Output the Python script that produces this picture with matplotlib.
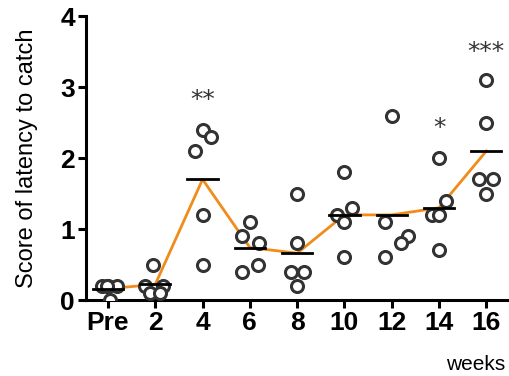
import matplotlib
matplotlib.use("Agg")
import matplotlib.pyplot as plt
import numpy as np

plt.rcParams['font.family'] = ['Liberation Sans', 'DejaVu Sans']

# groups on the x axis
labels = ['Pre', '2', '4', '6', '8', '10', '12', '14', '16']

# individual scores per group
scores = [
    [0.2, 0.2, 0.2, 0.2, 0.0],
    [0.5, 0.2, 0.2, 0.1, 0.1],
    [2.4, 2.3, 2.1, 1.2, 0.5],
    [1.1, 0.9, 0.8, 0.5, 0.4],
    [1.5, 0.8, 0.4, 0.4, 0.2],
    [1.8, 1.3, 1.2, 1.1, 0.6],
    [2.6, 1.1, 0.9, 0.8, 0.6],
    [2.0, 1.4, 1.2, 1.2, 0.7],
    [3.1, 2.5, 1.7, 1.7, 1.5],
]

# horizontal scatter of the dots within each group (category units)
jitter = [
    [-0.13, 0.0, 0.19, -0.03, 0.04],
    [-0.04, -0.21, 0.17, -0.11, 0.10],
    [0.0, 0.17, -0.17, 0.0, 0.0],
    [0.0, -0.17, 0.19, 0.17, -0.17],
    [0.0, 0.0, -0.14, 0.14, 0.0],
    [0.0, 0.17, -0.15, 0.0, 0.0],
    [0.0, -0.15, 0.34, 0.19, -0.15],
    [0.0, 0.15, -0.15, 0.0, 0.0],
    [0.0, 0.0, -0.15, 0.15, 0.0],
]

# significance marks: group index, text, y
stars = [(2, '**', 2.82), (7, '*', 2.42), (8, '***', 3.49)]

means = [np.mean(s) for s in scores]
xpos = np.arange(len(labels))

fig = plt.figure(figsize=(5.1, 3.76), dpi=100)
ax = fig.add_axes([0.169, 0.202, 0.831, 0.755])

ax.plot(xpos, means, color='#F08C1A', lw=2, zorder=2)

for i in range(len(labels)):
    xs = i + np.array(jitter[i])
    ax.scatter(xs, scores[i], s=75, facecolor='white', edgecolor='#333333',
               linewidths=2.2, zorder=3)
    ax.plot([i - 0.32, i + 0.32], [means[i], means[i]], color='black', lw=2, zorder=4)

for i, txt, y in stars:
    ax.text(i, y, txt, ha='center', va='center', fontsize=18, color='#333333',
            family='DejaVu Sans')

ax.set_xlim(-0.46, 8.5)
ax.set_ylim(0, 4)
ax.set_xticks(xpos)
ax.set_xticklabels(labels)
ax.set_yticks([0, 1, 2, 3, 4])
for lab in ax.get_xticklabels() + ax.get_yticklabels():
    lab.set_fontweight('bold')
    lab.set_fontsize(19)

ax.spines['top'].set_visible(False)
ax.spines['right'].set_visible(False)
ax.spines['left'].set_linewidth(2.2)
ax.spines['bottom'].set_linewidth(2.2)
ax.tick_params(axis='both', width=2.2, length=6, pad=2)
ax.set_ylabel('Score of latency to catch', fontsize=17, labelpad=16)
fig.text(0.99, 0.03, 'weeks', ha='right', va='center', fontsize=15)

fig.savefig('out.png', dpi=100)
